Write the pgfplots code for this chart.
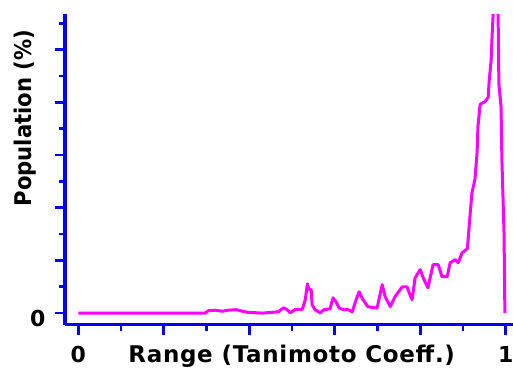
\documentclass[border=0pt]{standalone}
\usepackage{pgfplots}
\pgfplotsset{compat=1.18}
\usepackage{fontspec}
\setmainfont{DejaVu Sans}
\newfontfamily\ylabfont[FakeStretch=0.92]{DejaVu Sans}
\newfontfamily\xlabfont[LetterSpace=3]{DejaVu Sans}
\begin{document}
\fontsize{22pt}{26pt}\selectfont\bfseries
\begin{tikzpicture}
\useasboundingbox (0,0) rectangle (513pt,369pt);
\begin{axis}[
  at={(65pt,44.3pt)}, anchor=south west,
  scale only axis, width=448pt, height=310.4pt,
  xmin=-0.031, xmax=1.017, ymin=-0.44, ymax=11.34,
  axis x line=bottom, axis y line=left,
  axis line style={-, blue, line width=3.3pt},
  tick style={blue, line width=2.7pt},
  tick align=outside,
  major tick length=10pt, minor tick length=6pt,
  xtick={0,0.2,0.4,0.6,0.8,1}, xticklabels={0,,,,,1},
  minor xtick={0.1,0.3,0.5,0.7,0.9},
  ytick={0,2,4,6,8,10}, yticklabels={0},
  minor ytick={1,3,5,7,9,11},
  ticklabel style={font=\fontsize{22pt}{26pt}\selectfont\bfseries},
  /pgf/number format/assume math mode=true,
  xticklabel style={anchor=base, yshift=-28pt},
  yticklabel style={anchor=east, xshift=-2pt, yshift=-5pt},
  xlabel={Range (Tanimoto Coeff.)},
  ylabel={Population (\%)},
  xlabel style={at={(axis description cs:0.506,-0.1216)}, anchor=base, font=\fontsize{23pt}{27pt}\xlabfont\bfseries},
  ylabel style={at={(axis description cs:-0.0737,0.666)}, anchor=base, font=\fontsize{23pt}{27pt}\ylabfont\bfseries},
  clip=true,
]
\addplot[color={rgb,255:red,255;green,0;blue,255}, line width=3pt, line join=round] coordinates {
(0,0) (0.297,0) (0.304,0.09) (0.321,0.11) (0.337,0.07) (0.351,0.11) (0.370,0.13) (0.379,0.09)
(0.396,0.03) (0.431,0) (0.468,0.05) (0.480,0.2) (0.489,0.13) (0.496,0.01) (0.508,0.14) (0.524,0.14)
(0.531,0.5) (0.536,1.11) (0.540,0.89) (0.545,0.89) (0.547,0.32) (0.554,0.13) (0.566,0.01) (0.575,0.13)
(0.589,0.16) (0.596,0.58) (0.603,0.43) (0.610,0.2) (0.620,0.13) (0.631,0.13) (0.641,0.05) (0.650,0.51)
(0.657,0.81) (0.666,0.51) (0.678,0.24) (0.699,0.19) (0.711,1.08) (0.718,0.62) (0.730,0.25) (0.741,0.62)
(0.758,1.0) (0.769,1.0) (0.776,0.7) (0.781,0.51) (0.788,1.34) (0.800,1.65) (0.807,1.34) (0.818,0.96)
(0.830,1.84) (0.842,1.84) (0.851,1.38) (0.863,1.38) (0.870,1.91) (0.882,2.03) (0.889,1.91) (0.898,2.29)
(0.910,2.44) (0.912,2.79) (0.917,3.81) (0.921,4.57) (0.928,5.07) (0.933,6.1) (0.935,7.08) (0.940,7.92)
(0.952,8.03) (0.959,8.19) (0.961,8.76) (0.966,9.63) (0.968,10.5) (0.971,11.5) (0.975,13) (0.980,13)
(0.982,11.5) (0.984,8.68) (0.989,7.84) (0.991,5.83) (0.996,3.05) (0.998,0.01)
};
\end{axis}
\end{tikzpicture}
\end{document}
